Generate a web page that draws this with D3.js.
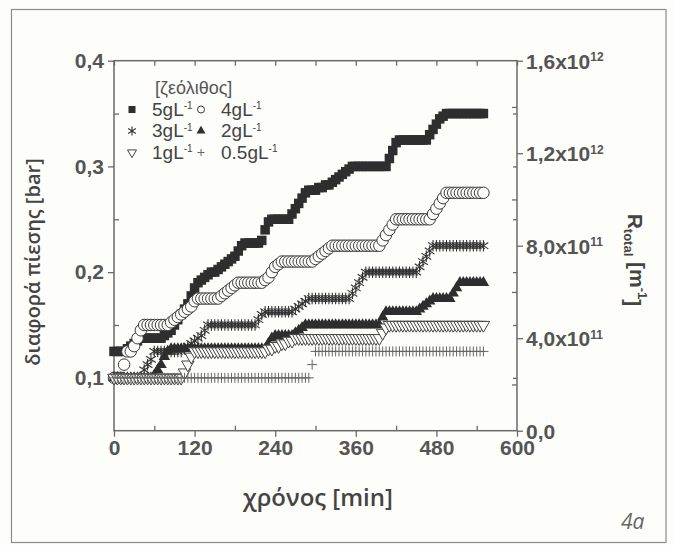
<!DOCTYPE html>
<html>
<head>
<meta charset="utf-8">
<script src="https://cdn.jsdelivr.net/npm/d3@7"></script>
<style>
    body { margin: 0; background: #fdfdfa; }
    svg { display: block; }
    .tick line { stroke: #6a6a6a; stroke-width: 1.3; }
    .tick text { font-family: 'Liberation Sans', Arial, sans-serif; font-weight: bold; font-size: 21px; fill: #555; }
</style>
</head>
<body>
<div id="chart"></div>
<script>
// time in minutes (one reading every 5 min)
var times = [0,5,10,15,20,25,30,35,40,45,50,55,60,65,70,75,80,85,90,95,
    100,105,110,115,120,125,130,135,140,145,150,155,160,165,170,175,180,185,190,195,
    200,205,210,215,220,225,230,235,240,245,250,255,260,265,270,275,280,285,290,295,
    300,305,310,315,320,325,330,335,340,345,350,355,360,365,370,375,380,385,390,395,
    400,405,410,415,420,425,430,435,440,445,450,455,460,465,470,475,480,485,490,495,
    500,505,510,515,520,525,530,535,540,545,550];

// pressure difference [bar] for each zeolite dose
var zeo5 = [.125,.125,.125,.125,.1275,.13,.1325,.135,.1375,.1375,
    .1375,.1375,.1375,.1375,.1375,.14,.1425,.145,.15,.155,
    .16,.165,.17,.1775,.185,.19,.1925,.195,.1975,.2,
    .2,.2025,.205,.2075,.21,.2125,.215,.22,.225,.2275,
    .2275,.2275,.2275,.2275,.23,.24,.2475,.25,.25,.25,
    .25,.25,.25,.255,.26,.265,.27,.275,.2775,.2775,
    .2775,.28,.28,.2825,.2825,.285,.2875,.29,.2925,.295,
    .2975,.3,.3,.3,.3,.3,.3,.3,.3,.3,
    .3,.3,.3075,.315,.3225,.325,.325,.325,.325,.325,
    .325,.325,.325,.325,.33,.335,.34,.345,.3475,.35,
    .35,.35,.35,.35,.35,.35,.35,.35,.35,.35,
    .35];
var zeo4 = [.1,.1,.1,.1125,.125,.125,.13,.1375,.145,.15,
    .15,.15,.15,.15,.15,.15,.15,.1525,.155,.1575,
    .16,.1625,.165,.1675,.1725,.175,.175,.175,.175,.175,
    .175,.175,.1775,.18,.1825,.185,.1875,.19,.19,.19,
    .19,.19,.19,.19,.19,.1925,.195,.2,.205,.2075,
    .21,.21,.21,.21,.21,.21,.21,.21,.21,.21,
    .2125,.215,.2175,.22,.2225,.225,.225,.225,.225,.225,
    .225,.225,.225,.225,.225,.225,.225,.225,.225,.225,
    .23,.235,.24,.245,.25,.25,.25,.25,.25,.25,
    .25,.25,.25,.25,.25,.255,.26,.265,.27,.275,
    .275,.275,.275,.275,.275,.275,.275,.275,.275,.275,
    .275];
var zeo3 = [.1,.1,.1,.1,.1,.1,.1,.1,.1,.1075,
    .1125,.1175,.125,.125,.125,.125,.125,.125,.125,.125,
    .125,.1275,.13,.1325,.135,.1375,.14,.145,.15,.15,
    .15,.15,.15,.15,.15,.15,.15,.15,.15,.15,
    .15,.15,.15,.155,.16,.1625,.1625,.1625,.1625,.1625,
    .1625,.1625,.1625,.1625,.165,.1675,.17,.1725,.175,.175,
    .175,.175,.175,.175,.175,.175,.175,.175,.175,.175,
    .175,.18,.185,.19,.195,.2,.2,.2,.2,.2,
    .2,.2,.2,.2,.2,.2,.2,.2,.2,.2,
    .2,.205,.21,.215,.22,.225,.225,.225,.225,.225,
    .225,.225,.225,.225,.225,.225,.225,.225,.225,.225,
    .225];
var zeo2 = [.1,.1,.1,.1,.1,.1,.1,.1,.1,.1,
    .1,.1,.1025,.1075,.1125,.12,.125,.1275,.1275,.1275,
    .1275,.1275,.1275,.1275,.1275,.1275,.1275,.1275,.1275,.1275,
    .1275,.1275,.1275,.1275,.1275,.1275,.1275,.1275,.1275,.1275,
    .1275,.1275,.1275,.1275,.1275,.1275,.1325,.1375,.14,.14,
    .14,.14,.14,.14,.1425,.145,.1475,.15,.15,.15,
    .15,.15,.15,.15,.15,.15,.15,.15,.15,.15,
    .15,.15,.15,.15,.15,.15,.15,.15,.15,.15,
    .1575,.1625,.1625,.1625,.1625,.1625,.1625,.1625,.1625,.1625,
    .1625,.165,.1675,.17,.1725,.175,.175,.175,.175,.175,
    .175,.18,.185,.19,.19,.19,.19,.19,.19,.19,
    .19];
var zeo1 = [.1,.1,.1,.1,.1,.1,.1,.1,.1,.1,
    .1,.1,.1,.1,.1,.1,.1,.1,.1,.1,
    .1,.105,.1125,.12,.125,.125,.125,.125,.125,.125,
    .125,.125,.125,.125,.125,.125,.125,.125,.125,.125,
    .125,.125,.125,.125,.125,.125,.1275,.1275,.13,.13,
    .1325,.1325,.135,.135,.1375,.1375,.1375,.1375,.1375,.1375,
    .1375,.1375,.1375,.1375,.1375,.1375,.1375,.1375,.1375,.1375,
    .1375,.1375,.1375,.1375,.1375,.1375,.1375,.1375,.1375,.1375,
    .1425,.1475,.15,.15,.15,.15,.15,.15,.15,.15,
    .15,.15,.15,.15,.15,.15,.15,.15,.15,.15,
    .15,.15,.15,.15,.15,.15,.15,.15,.15,.15,
    .15];
var zeo05 = [.1,.1,.1,.1,.1,.1,.1,.1,.1,.1,
    .1,.1,.1,.1,.1,.1,.1,.1,.1,.1,
    .1,.1,.1,.1,.1,.1,.1,.1,.1,.1,
    .1,.1,.1,.1,.1,.1,.1,.1,.1,.1,
    .1,.1,.1,.1,.1,.1,.1,.1,.1,.1,
    .1,.1,.1,.1,.1,.1,.1,.1,.1,.1125,
    .125,.125,.125,.125,.125,.125,.125,.125,.125,.125,
    .125,.125,.125,.125,.125,.125,.125,.125,.125,.125,
    .125,.125,.125,.125,.125,.125,.125,.125,.125,.125,
    .125,.125,.125,.125,.125,.125,.125,.125,.125,.125,
    .125,.125,.125,.125,.125,.125,.125,.125,.125,.125,
    .125];

var seriesLabels = ['5gL', '4gL', '3gL', '2gL', '1gL', '0.5gL'];
var xTicks = [0, 120, 240, 360, 480, 600];
var xMinor = [60, 180, 300, 420, 540];
var yTicks = [0.1, 0.2, 0.3, 0.4];
var yMinor = [0.15, 0.25, 0.35];
var rTicks = [0, 4e11, 8e11, 1.2e12, 1.6e12];
var rMinor = [2e11, 6e11, 1e12, 1.4e12];
var rTickLabels = [['0,0', ''], ['4,0x10', '11'], ['8,0x10', '11'], ['1,2x10', '12'], ['1,6x10', '12']];

(function () {
    var W = 674, H = 545;
    var svg = d3.select('#chart').append('svg').attr('width', W).attr('height', H);

    // outer frame
    svg.append('rect')
        .attr('x', 11.5).attr('y', 9.5).attr('width', 654.5).attr('height', 533)
        .attr('fill', 'none').attr('stroke', '#8a8a8a').attr('stroke-width', 1.2);

    var x = d3.scaleLinear().domain([0, 600]).range([114, 517]);
    var y = d3.scaleLinear().domain([0.05, 0.4]).range([430.7, 60.7]);
    var r = d3.scaleLinear().domain([0, 1.6e12]).range([430.7, 60.7]);

    function noDomain(g) { g.select('.domain').remove(); }
    var comma = function (d) { return d.toFixed(1).replace('.', ','); };

    // bottom axis: majors outward, minors inward
    svg.append('g').attr('transform', 'translate(0,430.7)')
        .call(d3.axisBottom(x).tickValues(xTicks).tickSize(6).tickPadding(3))
        .call(noDomain);
    svg.append('g').attr('transform', 'translate(0,430.7)')
        .call(d3.axisTop(x).tickValues(xMinor).tickSize(5).tickFormat(''))
        .call(noDomain);
    // top mirror ticks
    svg.append('g').attr('transform', 'translate(0,60.7)')
        .call(d3.axisBottom(x).tickValues(xTicks.concat(xMinor)).tickSize(5).tickFormat(''))
        .call(noDomain);

    // left axis
    svg.append('g').attr('transform', 'translate(114,0)')
        .call(d3.axisLeft(y).tickValues(yTicks).tickSize(6).tickPadding(4).tickFormat(comma))
        .call(noDomain);
    svg.append('g').attr('transform', 'translate(114,0)')
        .call(d3.axisRight(y).tickValues(yMinor).tickSize(5).tickFormat(''))
        .call(noDomain);

    // right axis (R_total)
    var rAxis = svg.append('g').attr('transform', 'translate(517,0)')
        .call(d3.axisRight(r).tickValues(rTicks).tickSize(6).tickPadding(3).tickFormat(''))
        .call(noDomain);
    rAxis.selectAll('.tick text').each(function (d, i) {
        var t = d3.select(this).attr('dy', '0.35em');
        t.append('tspan').text(rTickLabels[i][0]);
        if (rTickLabels[i][1]) {
            t.append('tspan').attr('dy', '-0.6em').attr('font-size', '12px').text(rTickLabels[i][1]);
        }
    });
    svg.append('g').attr('transform', 'translate(517,0)')
        .call(d3.axisLeft(r).tickValues(rMinor).tickSize(5).tickFormat(''))
        .call(noDomain);
    svg.append('g').attr('transform', 'translate(517,0)')
        .call(d3.axisLeft(y).tickValues(yTicks.slice(0, 3).concat(yMinor)).tickSize(4).tickFormat(''))
        .call(noDomain);

    // plot box
    svg.append('rect')
        .attr('x', 114).attr('y', 60.7).attr('width', 403).attr('height', 370)
        .attr('fill', 'none').attr('stroke', '#6a6a6a').attr('stroke-width', 1.5);

    // marker shapes
    var shapes = {
        square: function (s) {
            var h = s / 2;
            return 'M' + -h + ',' + -h + 'h' + s + 'v' + s + 'h' + -s + 'Z';
        },
        circle: function (s) {
            var h = s / 2;
            return 'M' + -h + ',0a' + h + ',' + h + ' 0 1,0 ' + s + ',0a' + h + ',' + h + ' 0 1,0 ' + -s + ',0Z';
        },
        triUp: function (s) {
            var hh = s * 0.866;
            return 'M0,' + (-hh * 2 / 3) + 'L' + s / 2 + ',' + hh / 3 + 'L' + -s / 2 + ',' + hh / 3 + 'Z';
        },
        triDown: function (s) {
            var hh = s * 0.866;
            return 'M0,' + (hh * 2 / 3) + 'L' + s / 2 + ',' + -hh / 3 + 'L' + -s / 2 + ',' + -hh / 3 + 'Z';
        },
        asterisk: function (s) {
            var h = s / 2, a = h * 0.85, b = h * 0.55;
            return 'M0,' + -h + 'V' + h + 'M' + -a + ',' + -b + 'L' + a + ',' + b + 'M' + -a + ',' + b + 'L' + a + ',' + -b;
        },
        plus: function (s) {
            var h = s / 2;
            return 'M0,' + -h + 'V' + h + 'M' + -h + ',0H' + h;
        }
    };

    var series = [
        { values: zeo5, shape: 'square', size: 9.5, fill: '#2e2e2e', stroke: 'none', sw: 0, leg: 7 },
        { values: zeo4, shape: 'circle', size: 11.5, fill: '#fdfdfa', stroke: '#3a3a3a', sw: 1, leg: 7 },
        { values: zeo3, shape: 'asterisk', size: 11.5, fill: 'none', stroke: '#333', sw: 1.1, leg: 9 },
        { values: zeo2, shape: 'triUp', size: 11.5, fill: '#2e2e2e', stroke: 'none', sw: 0, leg: 9 },
        { values: zeo1, shape: 'triDown', size: 12.5, fill: '#fdfdfa', stroke: '#444', sw: 1, leg: 9 },
        { values: zeo05, shape: 'plus', size: 10, fill: 'none', stroke: '#666', sw: 1, leg: 7 }
    ];

    series.forEach(function (s) {
        var pts = times.map(function (t, i) { return { t: t, v: s.values[i] }; });
        svg.append('g').selectAll('path')
            .data(pts)
            .join('path')
            .attr('transform', function (d) { return 'translate(' + x(d.t) + ',' + y(d.v) + ')'; })
            .attr('d', shapes[s.shape](s.size))
            .attr('fill', s.fill)
            .attr('stroke', s.stroke)
            .attr('stroke-width', s.sw);
    });

    // legend
    var legend = svg.append('g').attr('font-family', "'Liberation Sans', Arial, sans-serif").attr('fill', '#444');
    legend.append('text').attr('x', 155).attr('y', 94).attr('font-size', '18px').attr('fill', '#555')
        .text('[ζεόλιθος]');
    var legCols = [132, 201], legRows = [115.5, 137, 158.5];
    series.forEach(function (s, i) {
        var cx = legCols[i % 2], by = legRows[Math.floor(i / 2)];
        legend.append('path')
            .attr('transform', 'translate(' + cx + ',' + (by - 6) + ')')
            .attr('d', shapes[s.shape](s.leg))
            .attr('fill', s.fill).attr('stroke', s.stroke).attr('stroke-width', s.sw);
        var t = legend.append('text').attr('x', cx + 20).attr('y', by).attr('font-size', '19px');
        t.append('tspan').text(seriesLabels[i]);
        t.append('tspan').attr('dy', '-0.65em').attr('font-size', '10px').text('-1');
    });

    // axis titles
    svg.append('text')
        .attr('x', 318).attr('y', 506)
        .attr('text-anchor', 'middle')
        .attr('font-family', "'Open Sans', sans-serif").attr('font-weight', 600)
        .attr('font-size', '24px').attr('fill', '#444')
        .text('χρόνος [min]');

    svg.append('text')
        .attr('transform', 'translate(40,262) rotate(-90)')
        .attr('text-anchor', 'middle')
        .attr('font-family', "'Open Sans', sans-serif").attr('font-weight', 600)
        .attr('font-size', '20px').attr('fill', '#444')
        .text('διαφορά πίεσης [bar]');

    var rt = svg.append('text')
        .attr('transform', 'translate(628,260) rotate(90)')
        .attr('text-anchor', 'middle')
        .attr('font-family', "'Liberation Sans', Arial, sans-serif").attr('font-weight', 'bold')
        .attr('font-size', '21px').attr('fill', '#444');
    rt.append('tspan').text('R');
    rt.append('tspan').attr('dy', '0.3em').attr('font-size', '13px').text('total');
    rt.append('tspan').attr('dy', '-0.3em').text(' [m');
    rt.append('tspan').attr('dy', '-0.6em').attr('font-size', '13px').text('-1');
    rt.append('tspan').attr('dy', '0.6em').text(']');

    svg.append('text')
        .attr('x', 621).attr('y', 529)
        .attr('font-family', "'Open Sans', sans-serif").attr('font-style', 'italic')
        .attr('font-size', '21px').attr('fill', '#666')
        .text('4a');
})();
</script>
</body>
</html>
